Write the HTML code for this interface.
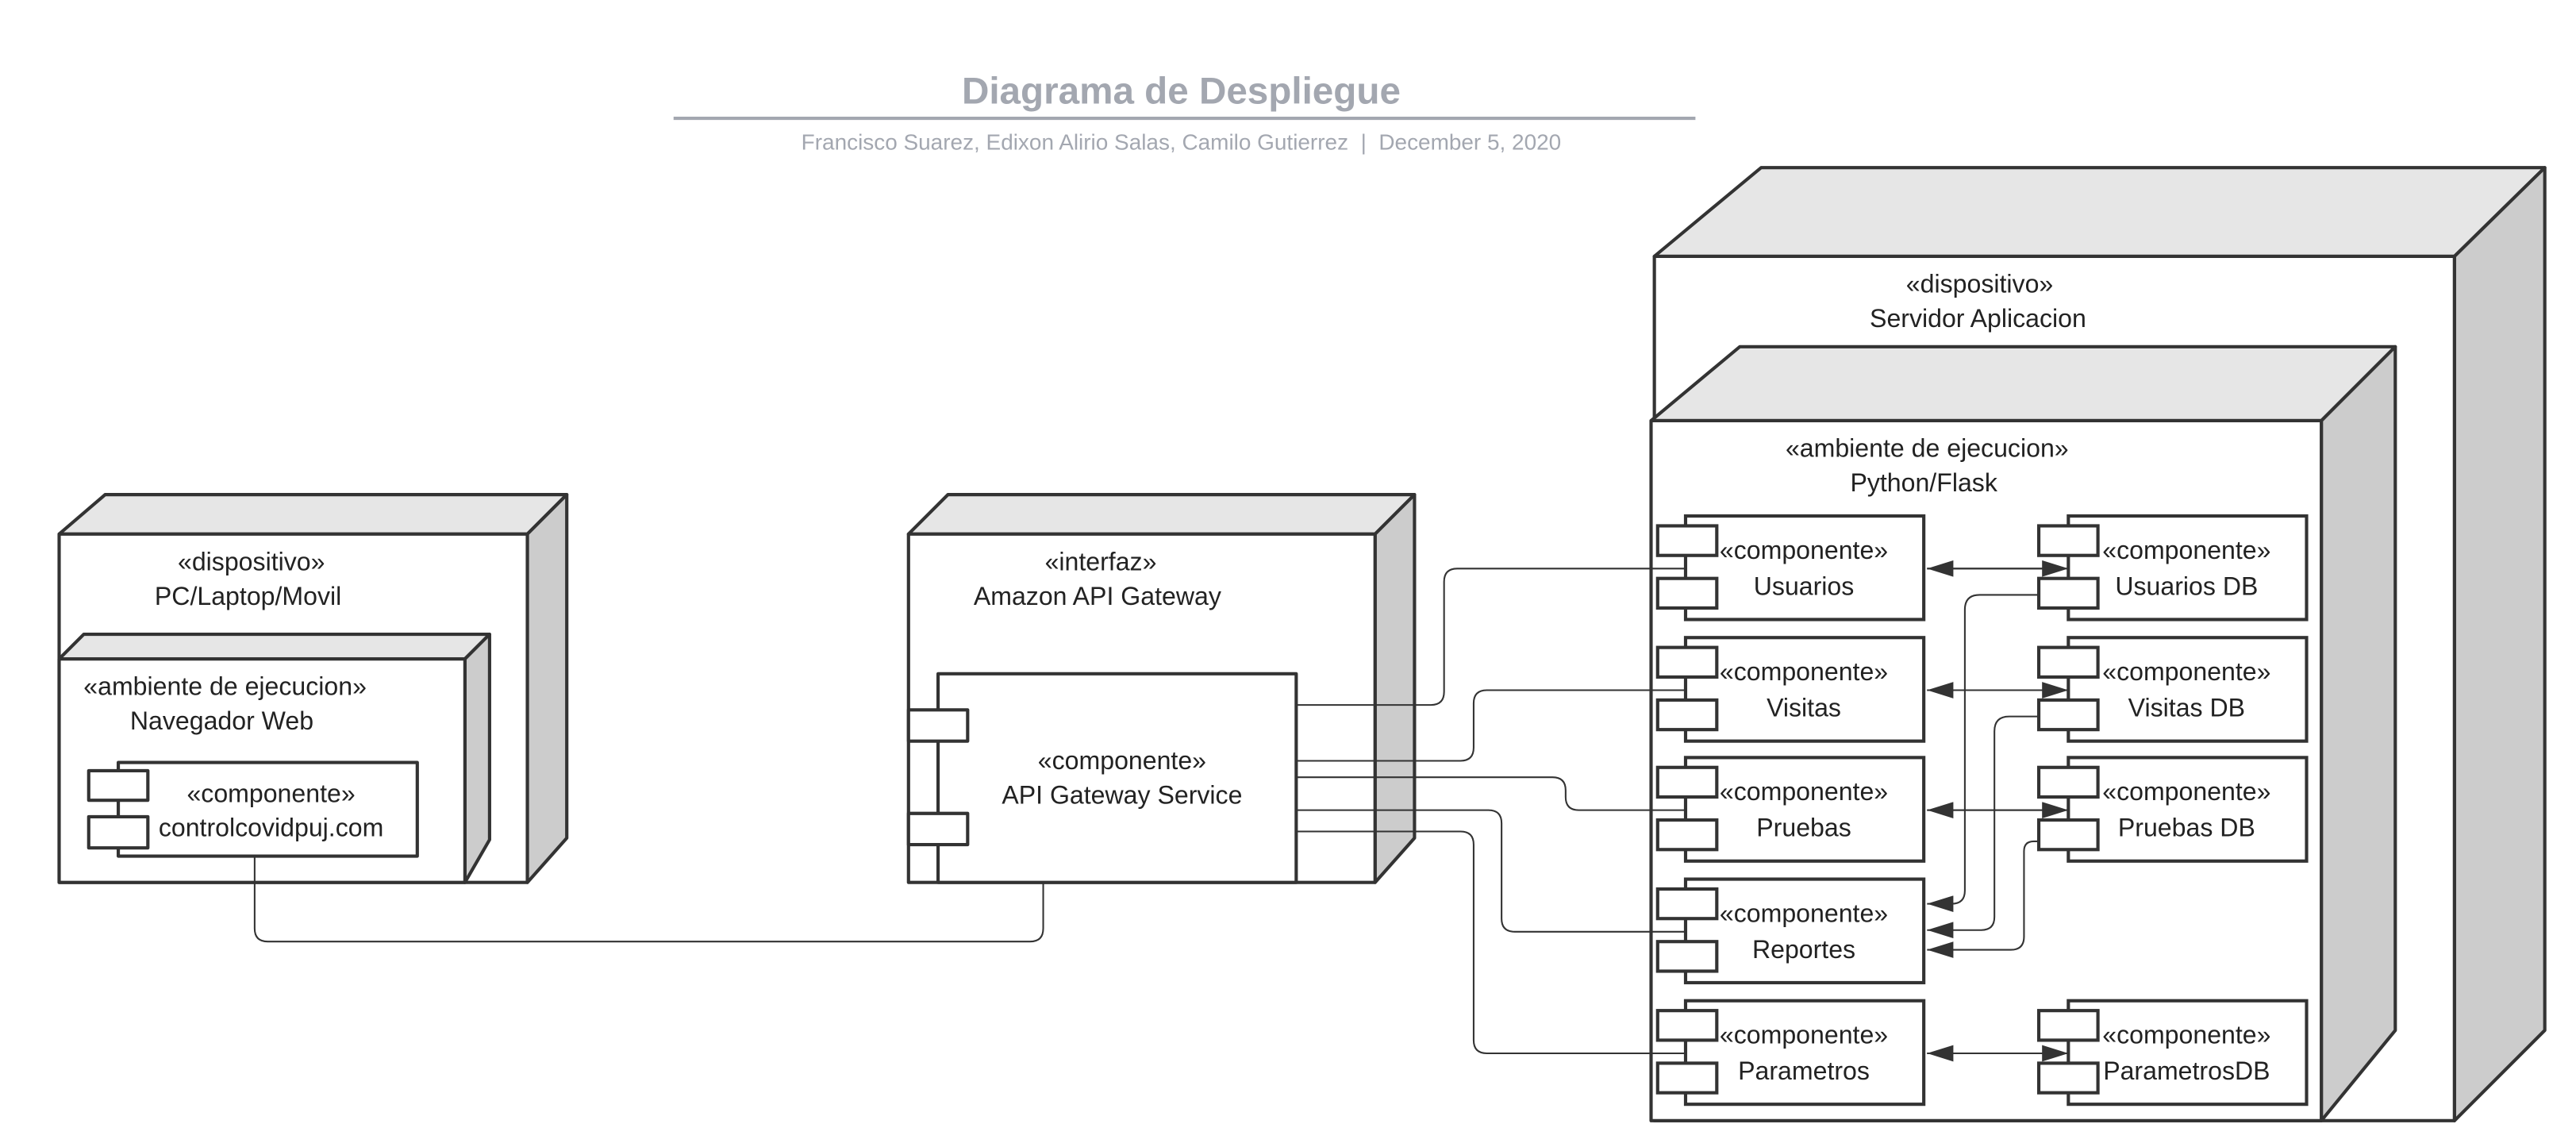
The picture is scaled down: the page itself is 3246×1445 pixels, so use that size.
<!DOCTYPE html>
<html><head><meta charset="utf-8"><style>
html,body{margin:0;padding:0;background:#fff;}
svg{display:block;}
text{font-family:"Liberation Sans",sans-serif;}
</style></head><body>
<svg width="3246" height="1445" viewBox="0 0 1568 698" xmlns="http://www.w3.org/2000/svg">
<defs>
<marker id="ah" markerWidth="16" markerHeight="10" refX="16" refY="5" orient="auto" markerUnits="userSpaceOnUse">
<path d="M0,0 L16,5 L0,10 Z" fill="#333"/></marker>
</defs>
<rect width="1568" height="698" fill="#fff"/>
<text x="719" y="63" font-size="23" font-weight="bold" fill="#a3a7b0" text-anchor="middle">Diagrama de Despliegue</text>
<line x1="410" y1="72" x2="1032" y2="72" stroke="#a3a7b0" stroke-width="2"/>
<text x="719" y="91" font-size="13.5" fill="#a3a7b0" text-anchor="middle" xml:space="preserve">Francisco Suarez, Edixon Alirio Salas, Camilo Gutierrez  |  December 5, 2020</text>

<g stroke="#333" stroke-width="2" stroke-linejoin="round">
<polygon points="36,325 64,301 345,301 321,325" fill="#e6e6e6"/>
<polygon points="321,325 345,301 345,510 321,537" fill="#cccccc"/>
<rect x="36" y="325" width="285" height="212" fill="#fff"/>
<polygon points="36,401 51,386 298,386 283,401" fill="#e6e6e6"/>
<polygon points="283,401 298,386 298,511 283,537" fill="#cccccc"/>
<rect x="36" y="401" width="247" height="136" fill="#fff"/>
<rect x="72" y="464" width="182" height="57" fill="#fff"/>
<rect x="54" y="469" width="36" height="18" fill="#fff"/>
<rect x="54" y="497" width="36" height="19" fill="#fff"/>

<polygon points="553,325 577,301 861,301 837,325" fill="#e6e6e6"/>
<polygon points="837,325 861,301 861,510 837,537" fill="#cccccc"/>
<rect x="553" y="325" width="284" height="212" fill="#fff"/>
<rect x="571" y="410" width="218" height="127" fill="#fff"/>
<rect x="553" y="432" width="36" height="19" fill="#fff"/>
<rect x="553" y="495" width="36" height="19" fill="#fff"/>

<polygon points="1007,156 1072,102 1549,102 1494,156" fill="#e6e6e6"/>
<polygon points="1494,156 1549,102 1549,627 1494,682" fill="#cccccc"/>
<rect x="1007" y="156" width="487" height="526" fill="#fff"/>
<polygon points="1005,256 1059,211 1458,211 1413,256" fill="#e6e6e6"/>
<polygon points="1413,256 1458,211 1458,627 1413,682" fill="#cccccc"/>
<rect x="1005" y="256" width="408" height="426" fill="#fff"/>
</g>

<g font-size="15.5" fill="#222" text-anchor="middle">
<text x="153" y="347">«dispositivo»</text>
<text x="151" y="368">PC/Laptop/Movil</text>
<text x="137" y="423">«ambiente de ejecucion»</text>
<text x="135" y="444">Navegador Web</text>
<text x="165" y="488">«componente»</text>
<text x="165" y="509">controlcovidpuj.com</text>
<text x="670" y="347">«interfaz»</text>
<text x="668" y="368">Amazon API Gateway</text>
<text x="683" y="468">«componente»</text>
<text x="683" y="489">API Gateway Service</text>
<text x="1205" y="178">«dispositivo»</text>
<text x="1204" y="199">Servidor Aplicacion</text>
<text x="1173" y="278">«ambiente de ejecucion»</text>
<text x="1171" y="299">Python/Flask</text>
</g>

<g stroke="#333" stroke-width="2" fill="#fff">
<rect x="1026" y="314" width="145" height="63"/><rect x="1009" y="320" width="36" height="18"/><rect x="1009" y="352" width="36" height="18"/>
<rect x="1026" y="388" width="145" height="63"/><rect x="1009" y="394" width="36" height="18"/><rect x="1009" y="426" width="36" height="18"/>
<rect x="1026" y="461" width="145" height="63"/><rect x="1009" y="467" width="36" height="18"/><rect x="1009" y="499" width="36" height="18"/>
<rect x="1026" y="535" width="145" height="63"/><rect x="1009" y="541" width="36" height="18"/><rect x="1009" y="573" width="36" height="18"/>
<rect x="1026" y="609" width="145" height="63"/><rect x="1009" y="615" width="36" height="18"/><rect x="1009" y="647" width="36" height="18"/>
<rect x="1259" y="314" width="145" height="63"/><rect x="1241" y="320" width="36" height="18"/><rect x="1241" y="352" width="36" height="18"/>
<rect x="1259" y="388" width="145" height="63"/><rect x="1241" y="394" width="36" height="18"/><rect x="1241" y="426" width="36" height="18"/>
<rect x="1259" y="461" width="145" height="63"/><rect x="1241" y="467" width="36" height="18"/><rect x="1241" y="499" width="36" height="18"/>
<rect x="1259" y="609" width="145" height="63"/><rect x="1241" y="615" width="36" height="18"/><rect x="1241" y="647" width="36" height="18"/>
</g>
<g font-size="15.5" fill="#222" text-anchor="middle">
<text x="1098" y="340">«componente»</text><text x="1098" y="362">Usuarios</text>
<text x="1098" y="414">«componente»</text><text x="1098" y="436">Visitas</text>
<text x="1098" y="487">«componente»</text><text x="1098" y="509">Pruebas</text>
<text x="1098" y="561">«componente»</text><text x="1098" y="583">Reportes</text>
<text x="1098" y="635">«componente»</text><text x="1098" y="657">Parametros</text>
<text x="1331" y="340">«componente»</text><text x="1331" y="362">Usuarios DB</text>
<text x="1331" y="414">«componente»</text><text x="1331" y="436">Visitas DB</text>
<text x="1331" y="487">«componente»</text><text x="1331" y="509">Pruebas DB</text>
<text x="1331" y="635">«componente»</text><text x="1331" y="657">ParametrosDB</text>
</g>

<g stroke="#333" stroke-width="1" fill="none">
<path d="M155,521 V565 Q155,573 163,573 H627 Q635,573 635,565 V537"/>
<path d="M789,429 H871 Q879,429 879,421 V354 Q879,346 887,346 H1026"/>
<path d="M789,463 H889 Q897,463 897,455 V428 Q897,420 905,420 H1026"/>
<path d="M789,473 H945 Q953,473 953,481 V485 Q953,493 961,493 H1026"/>
<path d="M789,493 H906 Q914,493 914,501 V559 Q914,567 922,567 H1026"/>
<path d="M789,506 H889 Q897,506 897,514 V633 Q897,641 905,641 H1026"/>

<path d="M1173,346 H1259" marker-end="url(#ah)"/>
<path d="M1173,420 H1259" marker-end="url(#ah)"/>
<path d="M1173,493 H1259" marker-end="url(#ah)"/>
<path d="M1173,641 H1259" marker-end="url(#ah)"/>
<path d="M1257,346 H1173" marker-end="url(#ah)"/>
<path d="M1257,420 H1173" marker-end="url(#ah)"/>
<path d="M1257,493 H1173" marker-end="url(#ah)"/>
<path d="M1257,641 H1173" marker-end="url(#ah)"/>

<path d="M1241,362 H1205 Q1196,362 1196,371 V542 Q1196,550 1188,550 H1173" marker-end="url(#ah)"/>
<path d="M1241,436 H1223 Q1214,436 1214,445 V558 Q1214,566 1206,566 H1173" marker-end="url(#ah)"/>
<path d="M1241,512 H1238 Q1232,512 1232,518 V570 Q1232,578 1224,578 H1173" marker-end="url(#ah)"/>
</g>
</svg>
</body></html>
